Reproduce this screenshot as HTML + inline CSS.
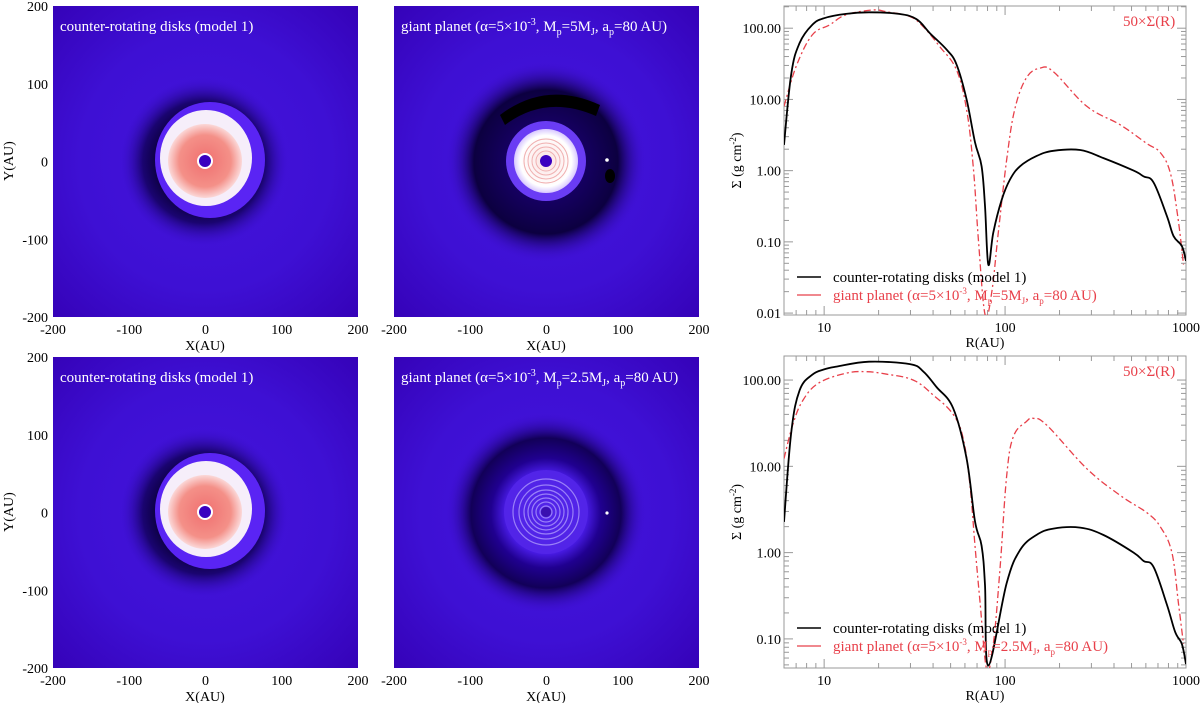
<!DOCTYPE html>
<html><head><meta charset="utf-8">
<style>
html,body{margin:0;padding:0;background:#fff;}
body{width:1200px;height:703px;overflow:hidden;font-family:"Liberation Serif",serif;}
svg text{font-family:"Liberation Serif",serif;}
</style></head>
<body>
<svg id="fig" width="1200" height="703" viewBox="0 0 1200 703" xmlns="http://www.w3.org/2000/svg">
<defs>
  <radialGradient id="bgGrad" cx="50%" cy="50%" r="75%">
    <stop offset="0" stop-color="#4414dc"/>
    <stop offset="0.55" stop-color="#3e10d4"/>
    <stop offset="1" stop-color="#3400b4"/>
  </radialGradient>
  <radialGradient id="darkRing1">
    <stop offset="0.55" stop-color="#0c0040"/>
    <stop offset="0.72" stop-color="#1a0470"/>
    <stop offset="1" stop-color="#3e10d4" stop-opacity="0"/>
  </radialGradient>
  <radialGradient id="redCore">
    <stop offset="0" stop-color="#f07070"/>
    <stop offset="0.7" stop-color="#f49088"/>
    <stop offset="1" stop-color="#fbd8d8"/>
  </radialGradient>
  <radialGradient id="whiteCore">
    <stop offset="0" stop-color="#fbe0e0"/>
    <stop offset="0.8" stop-color="#ffffff"/>
    <stop offset="1" stop-color="#d8c8ff"/>
  </radialGradient>
  <radialGradient id="gap2">
    <stop offset="0.4" stop-color="#4a1ce8"/>
    <stop offset="0.55" stop-color="#200090"/>
    <stop offset="0.75" stop-color="#120058"/>
    <stop offset="1" stop-color="#3e10d4" stop-opacity="0"/>
  </radialGradient>
  <radialGradient id="gap1">
    <stop offset="0.3" stop-color="#18006a"/>
    <stop offset="0.72" stop-color="#0c0040"/>
    <stop offset="1" stop-color="#3e10d4" stop-opacity="0"/>
  </radialGradient>
  <clipPath id="clipTL"><rect x="53" y="6" width="305" height="311"/></clipPath>
  <clipPath id="clipBL"><rect x="53" y="357" width="305" height="311"/></clipPath>
  <clipPath id="clipTM"><rect x="394" y="6" width="305" height="311"/></clipPath>
  <clipPath id="clipBM"><rect x="394" y="357" width="305" height="311"/></clipPath>
</defs>

<g clip-path="url(#clipTL)">
  <rect x="53" y="6" width="305" height="311" fill="url(#bgGrad)"/>
  <circle cx="204" cy="162" r="85" fill="url(#darkRing1)"/>
  <ellipse cx="210" cy="160" rx="55" ry="58" fill="#5a24f4"/>
  <ellipse cx="206" cy="158" rx="46" ry="48" fill="#f6eefa"/>
  <circle cx="205" cy="161" r="37" fill="url(#redCore)"/>
  <circle cx="205" cy="161" r="8" fill="#fff"/>
  <circle cx="205" cy="161" r="6" fill="#3a00c0"/>
</g>
<g clip-path="url(#clipBL)">
  <rect x="53" y="357" width="305" height="311" fill="url(#bgGrad)"/>
  <circle cx="204" cy="513" r="85" fill="url(#darkRing1)"/>
  <ellipse cx="210" cy="511" rx="55" ry="58" fill="#5a24f4"/>
  <ellipse cx="206" cy="509" rx="46" ry="48" fill="#f6eefa"/>
  <circle cx="205" cy="512" r="37" fill="url(#redCore)"/>
  <circle cx="205" cy="512" r="8" fill="#fff"/>
  <circle cx="205" cy="512" r="6" fill="#3a00c0"/>
</g>
<g clip-path="url(#clipTM)">
  <rect x="394" y="6" width="305" height="311" fill="url(#bgGrad)"/>
  <circle cx="546" cy="162" r="100" fill="url(#gap1)"/>
  <path d="M500 115 Q546 80 600 105 L596 116 Q546 94 505 125 Z" fill="#000"/>
  <circle cx="546" cy="161" r="40" fill="#6a3cf4"/>
  <circle cx="546" cy="161" r="32" fill="url(#whiteCore)"/>
  <g fill="none" stroke="#f0b0b0" stroke-width="1">
    <circle cx="546" cy="161" r="10"/><circle cx="546" cy="161" r="14"/><circle cx="546" cy="161" r="18"/><circle cx="546" cy="161" r="22"/>
  </g>
  <circle cx="546" cy="161" r="6" fill="#3a00c0"/>
  <circle cx="607" cy="160" r="1.8" fill="#fff"/>
  <ellipse cx="610" cy="176" rx="5" ry="7" fill="#000"/>
</g>
<g clip-path="url(#clipBM)">
  <rect x="394" y="357" width="305" height="311" fill="url(#bgGrad)"/>
  <circle cx="546" cy="513" r="100" fill="url(#gap2)"/>
  <circle cx="546" cy="512" r="42" fill="#5224e8"/>
  <g fill="none" stroke="#9a80f8" stroke-width="1.2">
    <circle cx="546" cy="512" r="6"/><circle cx="546" cy="512" r="10"/><circle cx="546" cy="512" r="14"/><circle cx="546" cy="512" r="18"/><circle cx="546" cy="512" r="22"/><circle cx="546" cy="512" r="27"/><circle cx="546" cy="512" r="33"/>
  </g>
  <circle cx="546" cy="512" r="5" fill="#3a10b0"/>
  <circle cx="607" cy="513" r="1.6" fill="#fff"/>
</g>

<g id="maptext" fill="#fff" font-size="15">
  <text x="60" y="31">counter-rotating disks (model 1)</text>
  <text x="60" y="382">counter-rotating disks (model 1)</text>
  <text x="401" y="31">giant planet  (α=5×10<tspan dy="-6" font-size="10">-3</tspan><tspan dy="6">, M</tspan><tspan dy="4" font-size="10">p</tspan><tspan dy="-4">=5M</tspan><tspan dy="4" font-size="10">J</tspan><tspan dy="-4">, a</tspan><tspan dy="4" font-size="10">p</tspan><tspan dy="-4">=80 AU)</tspan></text>
  <text x="401" y="382">giant planet  (α=5×10<tspan dy="-6" font-size="10">-3</tspan><tspan dy="6">, M</tspan><tspan dy="4" font-size="10">p</tspan><tspan dy="-4">=2.5M</tspan><tspan dy="4" font-size="10">J</tspan><tspan dy="-4">, a</tspan><tspan dy="4" font-size="10">p</tspan><tspan dy="-4">=80 AU)</tspan></text>
</g>
<g id="mapaxes" font-size="14" fill="#000"></g>
<g id="plots"></g>
</svg>
<script>
const topR_black = [6,6.58,7.32,8.58,10,13.2,17.7,25.9,32.4,38.4,47.5,53.9,61.3,68.2,74.2,77.5,80.8,86.1,95.8,106.5,121,149,185,260,350,513,583,662,784,854,949,1000];
const topS_black = [2.3,23,62,111,138,159,167,159,134,85,50,31,10,2.5,1.15,0.32,0.048,0.135,0.39,0.75,1.15,1.6,1.9,1.95,1.5,1.0,0.83,0.68,0.23,0.12,0.087,0.054];
const topR_red = [6,7.0,8.58,10.7,13.2,18.5,22.2,29.8,35.3,43.6,53.9,61.3,66.7,71.2,77.5,84.3,91.7,102,113,131,156,185,283,433,608,720,819,900,969];
const topS_red = [8,29,80,111,154,180,170,146,105,55,26,7.2,1.15,0.107,0.0096,0.019,0.135,1.4,7.2,20,27.5,24.5,8,4.4,2.4,1.8,0.93,0.23,0.048];
const botR_black = [6,6.58,7.32,8.58,10,11.7,17.7,29.8,35.3,41.8,51.7,61.3,68.2,74.2,77.5,80.8,102,121,149,185,260,350,513,583,662,784,872,949,1000];
const botS_black = [2.27,25,76,115,133,143,163,153,126,83,47,12.3,2.3,1.2,0.42,0.049,0.44,1.07,1.6,1.9,1.95,1.6,1.0,0.8,0.68,0.25,0.12,0.087,0.051];
const botR_red = [6,6.73,7.62,9.3,13.2,17.1,22.2,31.1,40.1,51.7,58.7,64,68.2,72.7,79.1,86.1,93.8,102,111,131,143,170,283,433,608,720,836,910,969];
const botS_red = [12.3,31,58,92,120,125,117,100,67,40,21,6,1.2,0.27,0.045,0.087,0.65,7.6,22,33,36,30,9.4,4.6,2.9,2.0,1.0,0.25,0.087];
const xTickVals = [10,100,1000];
const xTickLabels = ["10","100","1000"];
const yTickValsTop = [0.01,0.1,1,10,100];
const yTickLabelsTop = ["0.01","0.10","1.00","10.00","100.00"];
const yTickValsBot = [0.1,1,10,100];
const yTickLabelsBot = ["0.10","1.00","10.00","100.00"];
const mapTickVals = [-200,-100,0,100,200];
const mapTickLabels = ["-200","-100","0","100","200"];

const NS = "http://www.w3.org/2000/svg";
function mk(tag, attrs, parent){const e=document.createElementNS(NS,tag);for(const k in attrs)e.setAttribute(k,attrs[k]);parent.appendChild(e);return e;}

const ma = document.getElementById('mapaxes');
const mapPanels = [{x:53,y:6,lab:true},{x:53,y:357,lab:true},{x:394,y:6,lab:false},{x:394,y:357,lab:false}];
mapPanels.forEach((p)=>{
  const sx = v => p.x + (v+200)/400*305;
  const sy = v => p.y + 311 - (v+200)/400*311;
  mapTickVals.forEach((v,i)=>{
    const t = mk('text',{x:sx(v),y:p.y+311+17,'text-anchor':'middle'},ma);
    
    
    t.textContent = mapTickLabels[i];
    if(p.lab){
      const ty = mk('text',{x:p.x-5,y:sy(v)+5,'text-anchor':'end'},ma);
      
      
      ty.textContent = mapTickLabels[i];
    }
  });
  const xl = mk('text',{x:p.x+152,y:p.y+311+33,'text-anchor':'middle'},ma);
  
  
  xl.textContent='X(AU)';
  if(p.lab){
    const yl = mk('text',{x:0,y:0,'text-anchor':'middle',transform:`translate(13,${p.y+155}) rotate(-90)`},ma);
    
    
    yl.textContent='Y(AU)';
  }
});

function smoothPath(P){
  let d='M'+P[0][0].toFixed(1)+','+P[0][1].toFixed(1);
  for(let i=0;i<P.length-1;i++){
    const p0=P[i-1]||P[i], p1=P[i], p2=P[i+1], p3=P[i+2]||P[i+1];
    const t=0.18;
    const c1=[p1[0]+(p2[0]-p0[0])*t, p1[1]+(p2[1]-p0[1])*t];
    const c2=[p2[0]-(p3[0]-p1[0])*t, p2[1]-(p3[1]-p1[1])*t];
    d+=` C${c1[0].toFixed(1)},${c1[1].toFixed(1)} ${c2[0].toFixed(1)},${c2[1].toFixed(1)} ${p2[0].toFixed(1)},${p2[1].toFixed(1)}`;
  }
  return d;
}

const plots = document.getElementById('plots');
function drawPlot(cfg){
  const g = mk('g',{},plots);
  
  
  const L=784,R=1186,T=cfg.top,B=cfg.bottom;
  const lx0=Math.log10(6), lx1=3;
  const ly0=Math.log10(cfg.ymin), ly1=Math.log10(cfg.ymax);
  const X = v => L + (Math.log10(v)-lx0)/(lx1-lx0)*(R-L);
  const Y = v => B - (Math.log10(v)-ly0)/(ly1-ly0)*(B-T);
  const frame = mk('rect',{x:L,y:T,width:R-L,height:B-T,fill:'none',stroke:'#999','stroke-width':1},g);
  
  
  for(let d=1; d<=100; d*=10){
    for(let m=1;m<=9;m++){
      const v=d*m; if(v<6||v>1000) continue;
      const len = (m===1)?9:5;
      const x=X(v);
      mk('line',{x1:x,y1:B,x2:x,y2:B-len,stroke:'#999'},g);
      mk('line',{x1:x,y1:T,x2:x,y2:T+len,stroke:'#999'},g);
    }
  }
  xTickVals.forEach((v,i)=>{
    const t=mk('text',{x:X(v),y:B+17,'text-anchor':'middle','font-size':14},g);
    
    
    t.textContent=xTickLabels[i];
  });
  for(let d=0.001; d<=1000; d*=10){
    for(let m=1;m<=9;m++){
      const v=d*m; if(v<cfg.ymin*0.999||v>cfg.ymax) continue;
      const len=(m===1)?9:5; const y=Y(v);
      mk('line',{x1:L,y1:y,x2:L+len,y2:y,stroke:'#999'},g);
      mk('line',{x1:R,y1:y,x2:R-len,y2:y,stroke:'#999'},g);
    }
  }
  cfg.yt.forEach((v,i)=>{
    const t=mk('text',{x:L-3,y:Y(v)+5,'text-anchor':'end','font-size':14},g);
    
    
    t.textContent=cfg.ytl[i];
  });
  const xt=mk('text',{x:985,y:B+32,'text-anchor':'middle','font-size':14},g);
  
  
  xt.textContent='R(AU)';
  const yt=mk('text',{x:0,y:0,'text-anchor':'middle','font-size':14,transform:`translate(741,${(T+B)/2}) rotate(-90)`},g);
  
  
  yt.innerHTML='Σ (g cm<tspan dy="-5" font-size="9">-2</tspan><tspan dy="5">)</tspan>';
  const pts=(rs,ss)=>rs.map((r,i)=>[X(r),Y(Math.max(ss[i],cfg.ymin*0.8))]);
  const clipId='c'+cfg.name;
  const cp=mk('clipPath',{id:clipId},g); mk('rect',{x:L,y:T,width:R-L,height:B-T},cp);
  const red=mk('path',{d:smoothPath(pts(cfg.rr,cfg.rs)),fill:'none',stroke:'#e8404a','stroke-width':1.3,'stroke-dasharray':'7,3,2,3','clip-path':`url(#${clipId})`},g);
  
  
  const blk=mk('path',{d:smoothPath(pts(cfg.br,cfg.bs)),fill:'none',stroke:'#000','stroke-width':1.8,'clip-path':`url(#${clipId})`},g);
  
  
  const lg=mk('g',{},g);
  
  
  const ly=cfg.legY;
  mk('line',{x1:797,y1:ly,x2:821,y2:ly,stroke:'#000','stroke-width':1.5},lg);
  const l1=mk('text',{x:833,y:ly+5,'font-size':15},lg);
  
  
  l1.textContent='counter-rotating disks (model 1)';
  mk('line',{x1:797,y1:ly+18,x2:821,y2:ly+18,stroke:'#e8404a','stroke-width':1.2},lg);
  const l2=mk('text',{x:833,y:ly+23,'font-size':15,fill:'#e8404a'},lg);
  
  
  l2.innerHTML='giant planet  (α=5×10<tspan dy="-6" font-size="9">-3</tspan><tspan dy="6">, M</tspan><tspan dy="4" font-size="9">p</tspan><tspan dy="-4">='+cfg.mp+'M</tspan><tspan dy="4" font-size="9">J</tspan><tspan dy="-4">, a</tspan><tspan dy="4" font-size="9">p</tspan><tspan dy="-4">=80 AU)</tspan>';
  const sc=mk('text',{x:1123,y:T+20,'font-size':15,fill:'#e8404a'},g);
  
  
  sc.textContent='50×Σ(R)';
}
drawPlot({name:'profile-plot-top',top:6,bottom:315,ymin:0.0094,ymax:205,yt:yTickValsTop,ytl:yTickLabelsTop,br:topR_black,bs:topS_black,rr:topR_red,rs:topS_red,legY:277,mp:'5'});
drawPlot({name:'profile-plot-bottom',top:356,bottom:668,ymin:0.046,ymax:190,yt:yTickValsBot,ytl:yTickLabelsBot,br:botR_black,bs:botS_black,rr:botR_red,rs:botS_red,legY:628,mp:'2.5'});
</script>
</body></html>
